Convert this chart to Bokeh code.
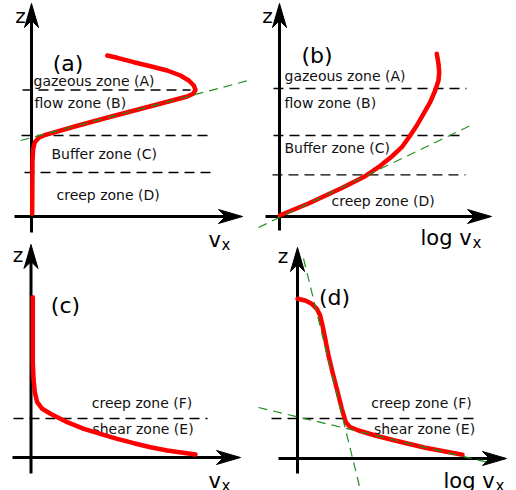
import numpy as np
from bokeh.plotting import figure
from bokeh.models import Range1d
from bokeh.core.properties import value
from bokeh.embed import file_html
from bokeh.resources import INLINE

FONT = value("DejaVu Sans")

# ---------------- data (local coordinates: v_x to the right, z upward, origin at axes crossing)
# Panel (a)
a_vx = [75.7, 85.7, 102.3, 119.0, 135.7, 149.0, 157.3, 162.3, 164.0, 161.7, 155.7,
        120.0, 80.0, 45.0, 14.0, 7.3, 3.3, 1.7, 1.0, 0.7]
a_z = [161.0, 158.7, 154.3, 150.3, 146.0, 141.0, 136.0, 131.0, 126.7, 122.7, 120.0,
       110.5, 100.0, 90.5, 81.7, 78.7, 74.3, 67.7, 56.0, 2.7]
a_fit_vx = [-11, 217]
a_fit_z = [76, 136]
a_bounds = [126.5, 81.0, 44.0]
a_bounds_from = [-9, -10, -7]
a_bounds_to = [159, 182, 185]
a_zones = ["gazeous zone (A)", "flow zone (B)", "Buffer zone (C)", "creep zone (D)"]
a_zone_vx = [2, 3, 20, 25]
a_zone_z = [136, 114, 63, 22]

# Panel (b)
b_vx = [0.0, 29.0, 62.3, 85.7, 99.0, 112.3, 122.3, 130.7, 137.3, 144.0, 150.7,
        155.7, 159.0, 159.7, 159.0, 157.3]
b_z = [1.0, 13.0, 28.5, 40.3, 49.3, 60.0, 69.3, 81.0, 91.0, 102.7, 114.3,
       126.0, 136.0, 144.3, 152.7, 162.7]
b_fit_vx = [-21, 191]
b_fit_z = [-11, 91]
b_bounds = [128.0, 81.0, 41.7]
b_bounds_from = [-6, -6, -7]
b_bounds_to = [187, 186, 186]
b_zones = ["gazeous zone (A)", "flow zone (B)", "Buffer zone (C)", "creep zone (D)"]
b_zone_vx = [5, 5, 5, 52]
b_zone_z = [141, 114, 69, 16]

# Panel (c)
c_vx = [1.8, 1.8, 1.8, 2.5, 3.8, 6.2, 11.2, 19.5, 36.2, 52.8, 69.5, 86.2, 102.8,
        119.5, 136.2, 164.5]
c_z = [160.3, 128.7, 95.3, 78.7, 65.3, 55.3, 48.7, 43.7, 35.3, 28.7, 23.7, 18.7,
       14.3, 10.3, 7.0, 3.0]
c_bounds = [39.0]
c_bounds_from = [-17.5]
c_bounds_to = [176.5]
c_zones = ["creep zone (F)", "shear zone (E)"]
c_zone_vx = [111, 112]
c_zone_z = [55, 29]

# Panel (d)
d_vx = [0.0, 7.7, 14.3, 19.3, 22.7, 25.0, 27.7, 31.0, 35.0, 39.3, 44.3, 48.3, 52.7,
        61.0, 77.7, 94.3, 111.0, 127.7, 147.7, 165.0]
d_z = [159.7, 158.0, 154.7, 149.7, 143.0, 133.0, 119.7, 103.0, 86.3, 69.7, 49.7,
       36.3, 31.3, 28.0, 23.0, 18.7, 14.7, 10.7, 7.0, 3.7]
d_fit1_vx = [6, 63]
d_fit1_z = [200, -32]
d_fit2_vx = [-39, 191]
d_fit2_z = [51, -4]
d_bounds = [40.0]
d_bounds_from = [-26]
d_bounds_to = [176]
d_zones = ["creep zone (F)", "shear zone (E)"]
d_zone_vx = [124, 127]
d_zone_z = [56, 30]

panel_labels = ["(a)", "(b)", "(c)", "(d)"]
x_labels = ["v", "log v", "v", "log v"]

# ---------------- layout (pixel positions of each panel's axes origin, etc.)
ORIGINS = {"a": (31, 216), "b": (279, 216), "c": (30.5, 457), "d": (297, 458)}
AXIS_Z = {"a": (-16, 213), "b": (-14, 213), "c": (-16, 213), "d": (-15, 211)}
AXIS_X = {"a": (-17, 211), "b": (-14, 212), "c": (-18.5, 209.5), "d": (-19, 209)}
ZLAB = {"a": (-11, 201), "b": (-12, 201), "c": (-13, 203), "d": (-14.5, 203)}
XLAB = {"a": (177, -23), "b": (141, -21), "c": (177.5, -23), "d": (146, -22)}
XSUB = {"a": (190, -28), "b": (193, -26), "c": (190.5, -28), "d": (198, -27)}
PLAB = {"a": (36.5, 153), "b": (37.5, 161), "c": (34.5, 152), "d": (37, 161)}

RED = "#ff0000"
GREEN = "#1f8f1f"

p = figure(width=516, height=490, x_range=Range1d(0, 516), y_range=Range1d(490, 0),
           x_axis_type=None, y_axis_type=None, toolbar_location=None,
           output_backend="svg", min_border=0)
p.outline_line_color = None
p.grid.visible = False
p.background_fill_color = "white"
p.border_fill_color = "white"


def gx(key, vx):
    return [ORIGINS[key][0] + v for v in vx]


def gy(key, z):
    return [ORIGINS[key][1] - v for v in z]


def draw_axes(key):
    z0, z1 = AXIS_Z[key]
    x0, x1 = AXIS_X[key]
    L, W, N = 24, 7, 17
    # vertical axis
    p.line(gx(key, [0, 0]), gy(key, [z0, z1 - N]), line_color="black", line_width=3)
    p.patch(gx(key, [0, -W, 0, W]), gy(key, [z1, z1 - L, z1 - N, z1 - L]),
            fill_color="black", line_color="black", line_width=1)
    # horizontal axis
    p.line(gx(key, [x0, x1 - N]), gy(key, [0, 0]), line_color="black", line_width=3)
    p.patch(gx(key, [x1, x1 - L, x1 - N, x1 - L]), gy(key, [0, -W, 0, W]),
            fill_color="black", line_color="black", line_width=1)


def draw_bounds(key, zs, xf, xt):
    for z, a, b in zip(zs, xf, xt):
        p.line(gx(key, [a, b]), gy(key, [z, z]), line_color="black",
               line_width=1.3, line_dash="10 6")


def draw_zone_text(key, texts, vx, z, align):
    p.text(gx(key, vx), gy(key, z), text=texts, text_font=FONT,
           text_font_size="14px", text_align=align, text_baseline="middle",
           text_color="#111111")


def draw_labels(key, idx):
    zx, zz = ZLAB[key]
    p.text(gx(key, [zx]), gy(key, [zz]), text=["z"], text_font=FONT,
           text_font_size="20px", text_align="center", text_baseline="alphabetic")
    lx, lz = XLAB[key]
    p.text(gx(key, [lx]), gy(key, [lz]), text=[x_labels[idx]], text_font=FONT,
           text_font_size="21px", text_align="left", text_baseline="alphabetic")
    sx, sz = XSUB[key]
    p.text(gx(key, [sx]), gy(key, [sz]), text=["x"], text_font=FONT,
           text_font_size="15px", text_align="left", text_baseline="alphabetic")
    px_, pz = PLAB[key]
    p.text(gx(key, [px_]), gy(key, [pz]), text=[panel_labels[idx]], text_font=FONT,
           text_font_size="22px", text_align="center", text_baseline="alphabetic")


for i, key in enumerate(["a", "b", "c", "d"]):
    draw_axes(key)
    draw_labels(key, i)

draw_bounds("a", a_bounds, a_bounds_from, a_bounds_to)
draw_bounds("b", b_bounds, b_bounds_from, b_bounds_to)
draw_bounds("c", c_bounds, c_bounds_from, c_bounds_to)
draw_bounds("d", d_bounds, d_bounds_from, d_bounds_to)

draw_zone_text("a", a_zones, a_zone_vx, a_zone_z, "left")
draw_zone_text("b", b_zones, b_zone_vx, b_zone_z, "left")
draw_zone_text("c", c_zones, c_zone_vx, c_zone_z, "center")
draw_zone_text("d", d_zones, d_zone_vx, d_zone_z, "center")

for key, vx, z in [("a", a_vx, a_z), ("b", b_vx, b_z), ("c", c_vx, c_z), ("d", d_vx, d_z)]:
    p.line(gx(key, vx), gy(key, z), line_color=RED, line_width=4.5,
           line_join="round", line_cap="round")

for key, vx, z in [("a", a_fit_vx, a_fit_z), ("b", b_fit_vx, b_fit_z),
                   ("d", d_fit1_vx, d_fit1_z), ("d", d_fit2_vx, d_fit2_z)]:
    p.line(gx(key, vx), gy(key, z), line_color=GREEN, line_width=1.2, line_dash="9 6")

open("out.html", "w").write(file_html(p, INLINE))
